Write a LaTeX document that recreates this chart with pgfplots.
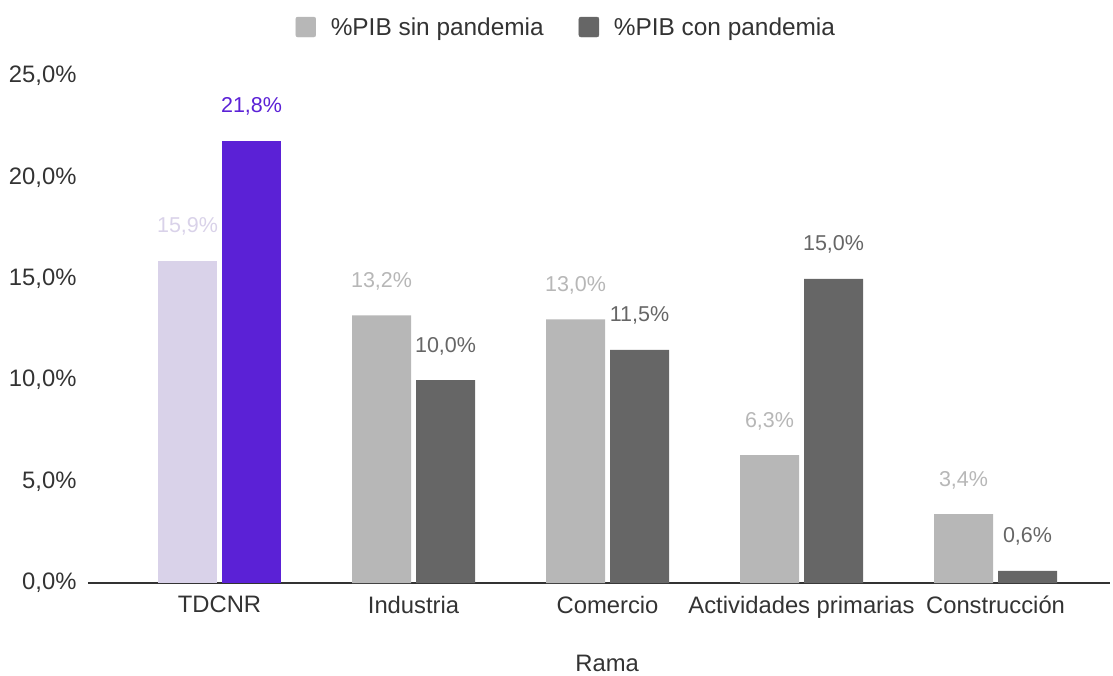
\documentclass[border=0pt]{standalone}
\usepackage{pgfplots}
\pgfplotsset{compat=1.18}
\usepackage{fontspec}
\setmainfont{Liberation Sans}
\definecolor{cSin}{HTML}{B7B7B7}
\definecolor{cCon}{HTML}{666666}
\definecolor{cLav}{HTML}{D9D2E9}
\definecolor{cPur}{HTML}{5B21D6}
\definecolor{cTxt}{HTML}{333333}
\newcommand{\fs}{\fontsize{23.8}{28}\selectfont}
\newcommand{\fd}{\fontsize{21.5}{25}\selectfont}
\begin{document}
\begin{tikzpicture}
\useasboundingbox (0pt,0pt) rectangle (1113pt,675pt);
\begin{axis}[
  at={(88pt,92pt)}, anchor=south west,
  scale only axis, width=1022pt, height=507pt,
  xmin=-0.678, xmax=4.59, ymin=0, ymax=25,
  axis x line*=bottom, axis y line*=left,
  y axis line style={draw=none},
  x axis line style={-, draw=black!80, line width=1.6pt},
  tick style={draw=none},
  xtick={0,1,2,3,4},
  xticklabels={TDCNR,Industria,Comercio,Actividades primarias,Construcción},
  ytick={0,5,10,15,20,25},
  yticklabels={{0,0\%},{5,0\%},{10,0\%},{15,0\%},{20,0\%},{25,0\%}},
  tick label style={font=\fs, text=cTxt},
  yticklabel style={xshift=-8pt},
  xticklabel style={yshift=-5pt},
  xlabel={Rama},
  xlabel style={font=\fs, text=cTxt, at={(axis description cs:0.508,-0.158)}, anchor=center},
  ybar, bar width=59pt,
  nodes near coords={\pgfmathprintnumber[fixed,fixed zerofill,precision=1,use comma,assume math mode=true]{\pgfplotspointmeta}\%},
  every node near coord/.append style={font=\fd, anchor=base, inner sep=0pt, yshift=28pt},
  legend style={at={(axis description cs:0.468,1.0966)}, anchor=center, draw=none, fill=none,
    legend columns=2, font=\fontsize{24.4}{28}\selectfont, text=cTxt,
    /tikz/every even column/.append style={column sep=33pt}},
]
\addlegendimage{legend image code/.code={\fill[cSin,rounded corners=2pt] (0pt,-10pt) rectangle (20pt,10pt); \path[draw=none,fill=none] (0pt,0pt) rectangle (33pt,0.1pt);}}
\addlegendentry{\%PIB sin pandemia}
\addlegendimage{legend image code/.code={\fill[cCon,rounded corners=2pt] (0pt,-10pt) rectangle (20pt,10pt); \path[draw=none,fill=none] (0pt,0pt) rectangle (33pt,0.1pt);}}
\addlegendentry{\%PIB con pandemia}

\addplot[forget plot, fill=cLav, draw=none, bar shift=-32pt,
  every node near coord/.append style={text=cLav}] coordinates {(0,15.9)};
\addplot[forget plot, fill=cPur, draw=none, bar shift=32pt,
  every node near coord/.append style={text=cPur}] coordinates {(0,21.8)};
\addplot[forget plot, fill=cSin, draw=none, bar shift=-32pt,
  every node near coord/.append style={text=cSin}] coordinates {(1,13.2) (2,13.0) (3,6.3) (4,3.4)};
\addplot[forget plot, fill=cCon, draw=none, bar shift=32pt,
  every node near coord/.append style={text=cCon}] coordinates {(1,10.0) (2,11.5) (3,15.0) (4,0.6)};
\end{axis}
\end{tikzpicture}
\end{document}
